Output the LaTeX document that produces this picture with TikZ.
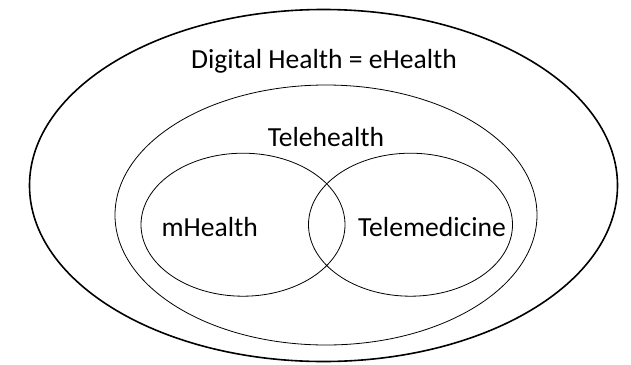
\documentclass[tikz,border=0pt]{standalone}
\usepackage{fontspec}
\setmainfont{Carlito}
\usetikzlibrary{shapes.geometric}
\begin{document}
\begin{tikzpicture}[x=1pt,y=-1pt,
  ring/.style={draw=black, ellipse, inner sep=0pt, line width=0.8pt},
  outerring/.style={ring, line width=1.6pt},
  lbl/.style={anchor=base, inner sep=0pt, font=\fontsize{27.6}{32}\selectfont}]
\useasboundingbox (0,0) rectangle (631,364);
\node[outerring, minimum width=588pt, minimum height=352pt] (outer) at (323.5,185.5) {};
\node[ring, minimum width=422pt, minimum height=260pt] (tele) at (326,215) {};
\node[ring, minimum width=204pt, minimum height=143pt] (mh) at (243,224.7) {};
\node[ring, minimum width=204pt, minimum height=143pt] (tm) at (410.5,224.7) {};
\node[lbl] (t1) at (324,68) {Digital Health = eHealth};
\node[lbl] (t2) at (326,146) {Telehealth};
\node[lbl] (t3) at (209.7,236) {mHealth};
\node[lbl] (t4) at (432,236) {Telemedicine};
\end{tikzpicture}
\end{document}
